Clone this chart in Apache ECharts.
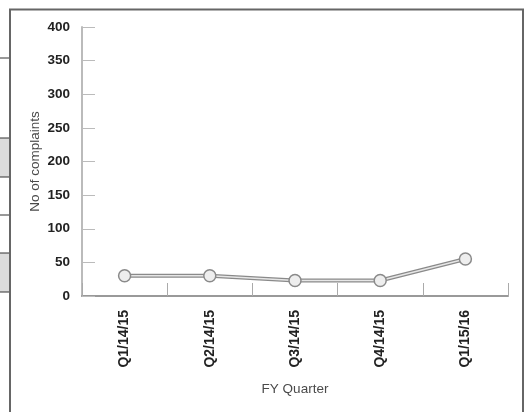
<!DOCTYPE html>
<html>
<head>
<meta charset="utf-8">
<script src="https://cdn.jsdelivr.net/npm/echarts@6/dist/echarts.min.js"></script>
<style>
html,body{margin:0;padding:0;background:#fff;}
#chart{width:531px;height:412px;}
</style>
</head>
<body>
<div id="chart"></div>
<script>
var categories = ['Q1/14/15', 'Q2/14/15', 'Q3/14/15', 'Q4/14/15', 'Q1/15/16'];
var complaints = [30, 30, 23, 23, 55];
var yTicks = [0, 50, 100, 150, 200, 250, 300, 350, 400];

var chart = echarts.init(document.getElementById('chart'), null, {renderer: 'canvas'});
var font = 'Liberation Sans, Arial, Helvetica, sans-serif';
chart.setOption({
  backgroundColor: '#fff',
  animation: false,
  grid: {left: 82, top: 27, right: 23, bottom: 116, containLabel: false},
  xAxis: {
    type: 'category',
    data: categories,
    boundaryGap: true,
    name: 'FY Quarter',
    nameLocation: 'middle',
    nameGap: 86,
    nameMoveOverlap: false,
    nameTextStyle: {color: '#4a4a4a', fontSize: 13.5, fontFamily: font},
    axisLine: {lineStyle: {color: '#999', width: 2}},
    axisTick: {show: true, inside: true, length: 13, lineStyle: {color: '#aaa', width: 1}},
    axisLabel: {rotate: 90, color: '#222', fontSize: 14, fontWeight: 'bold', fontFamily: font, margin: 14}
  },
  yAxis: {
    type: 'value',
    min: yTicks[0],
    max: yTicks[yTicks.length - 1],
    interval: 50,
    name: 'No of complaints',
    nameLocation: 'middle',
    nameGap: 40,
    nameMoveOverlap: false,
    nameTextStyle: {color: '#4a4a4a', fontSize: 13.5, fontFamily: font},
    axisLine: {show: true, lineStyle: {color: '#bbb', width: 2}},
    axisTick: {show: true, inside: true, length: 13, lineStyle: {color: '#bbb', width: 1}},
    splitLine: {show: false},
    axisLabel: {color: '#222', fontSize: 13.5, fontWeight: 'bold', fontFamily: font, margin: 12}
  },
  series: [
    {
      type: 'line',
      data: complaints,
      symbol: 'none',
      lineStyle: {color: '#8a8a8a', width: 4},
      z: 2
    },
    {
      type: 'line',
      data: complaints,
      symbol: 'circle',
      symbolSize: 12,
      itemStyle: {color: '#eeeeee', borderColor: '#8a8a8a', borderWidth: 1.5},
      lineStyle: {color: '#e6e6e6', width: 1.5},
      z: 3
    }
  ],
  graphic: [
    {type: 'rect', shape: {x: 0, y: 138, width: 10, height: 39}, style: {fill: '#dcdcdc'}, silent: true},
    {type: 'rect', shape: {x: 0, y: 253, width: 10, height: 39}, style: {fill: '#dcdcdc'}, silent: true},
    {type: 'line', shape: {x1: 0, y1: 58, x2: 10, y2: 58}, style: {stroke: '#333', lineWidth: 1}},
    {type: 'line', shape: {x1: 0, y1: 138, x2: 10, y2: 138}, style: {stroke: '#333', lineWidth: 1}},
    {type: 'line', shape: {x1: 0, y1: 177, x2: 10, y2: 177}, style: {stroke: '#333', lineWidth: 1}},
    {type: 'line', shape: {x1: 0, y1: 215, x2: 10, y2: 215}, style: {stroke: '#333', lineWidth: 1}},
    {type: 'line', shape: {x1: 0, y1: 253, x2: 10, y2: 253}, style: {stroke: '#333', lineWidth: 1}},
    {type: 'line', shape: {x1: 0, y1: 292, x2: 10, y2: 292}, style: {stroke: '#333', lineWidth: 1}},
    {type: 'polyline', shape: {points: [[10, 420], [10, 9.5], [523, 9.5], [523, 420]]}, style: {stroke: '#666', lineWidth: 2, fill: null}}
  ]
});
</script>
</body>
</html>
